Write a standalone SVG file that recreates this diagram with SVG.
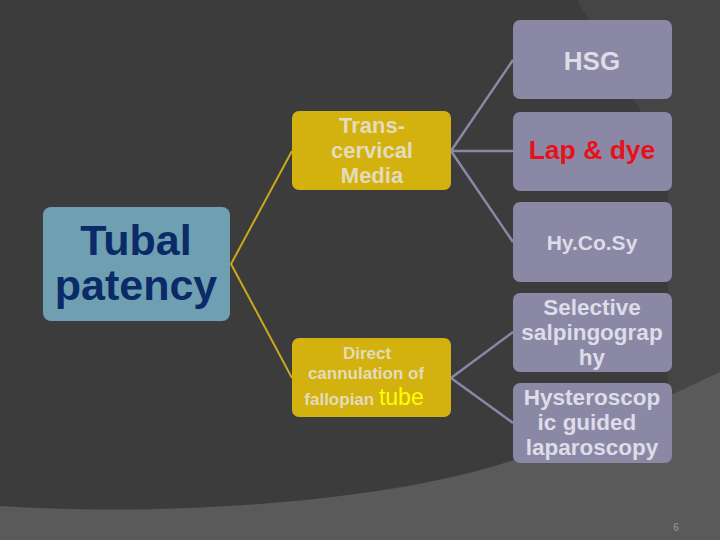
<svg xmlns="http://www.w3.org/2000/svg" width="720" height="540" viewBox="0 0 720 540">
<style>
text{font-family:"Liberation Sans",Arial,sans-serif;font-weight:bold;text-anchor:middle}
.gold rect{fill:#d3b10e}
.gold text{fill:#e3dcbc;font-size:22px}
.lav rect{fill:#8b88a5}
.lav text{fill:#dedce8;font-size:22.5px}
.cy{stroke:#c9a91c;stroke-width:2;fill:none}
.cl{stroke:#8b88a5;stroke-width:2.5;fill:none}
</style>
<rect width="720" height="540" fill="#3c3c3c"/>
<path d="M577,0 L720,0 L720,420 L668,420 L668,180 L640,110 Z" fill="#454545"/>
<path d="M0,506 C150,516 380,506 520,458 C600,430 660,400 720,372 L720,540 L0,540 Z" fill="#5a5a5a"/>
<text x="676" y="531" style="font-size:10px;font-weight:normal;fill:#9a9a9a">6</text>
<g id="connectors">
<path class="cy" d="M292,151 L231,264 L292,378"/>
<path class="cl" d="M513,60 L451,151 L513,151 M451,151 L513,242"/>
<path class="cl" d="M513,332 L451,378 L513,423"/>
</g>
<g id="tubal">
<rect x="43" y="207" width="187" height="114" rx="8" fill="#6fa0b1"/>
<text x="136" y="255" style="font-size:43px;fill:#0b2a68">Tubal</text>
<text x="136" y="300" style="font-size:43px;fill:#0b2a68">patency</text>
</g>
<g id="transcervical" class="gold">
<rect x="292" y="111" width="159" height="79" rx="7"/>
<text x="372" y="133">Trans-</text>
<text x="372" y="158">cervical</text>
<text x="372" y="183">Media</text>
</g>
<g id="direct" class="gold">
<rect x="292" y="338" width="159" height="79" rx="7"/>
<text x="367" y="359" style="font-size:17px">Direct</text>
<text x="366" y="379" style="font-size:17px">cannulation of</text>
<text x="364" y="405" style="font-size:17px">fallopian <tspan style="font-size:23px;font-weight:normal;fill:#ffff00">tube</tspan></text>
</g>
<g id="hsg" class="lav">
<rect x="513" y="20" width="159" height="79" rx="7"/>
<text x="592" y="70" style="font-size:26px">HSG</text>
</g>
<g id="lapdye" class="lav">
<rect x="513" y="112" width="159" height="79" rx="7"/>
<text x="592" y="159" style="font-size:26.5px;fill:#e8101a">Lap &amp; dye</text>
</g>
<g id="hycosy" class="lav">
<rect x="513" y="202" width="159" height="80" rx="7"/>
<text x="592" y="250" style="font-size:21px">Hy.Co.Sy</text>
</g>
<g id="selective" class="lav">
<rect x="513" y="293" width="159" height="79" rx="7"/>
<text x="592" y="315">Selective</text>
<text x="592" y="340">salpingograp</text>
<text x="592" y="365">hy</text>
</g>
<g id="hysteroscopic" class="lav">
<rect x="513" y="383" width="159" height="80" rx="7"/>
<text x="592" y="405">Hysteroscop</text>
<text x="587" y="430">ic guided</text>
<text x="592" y="455">laparoscopy</text>
</g>
</svg>
